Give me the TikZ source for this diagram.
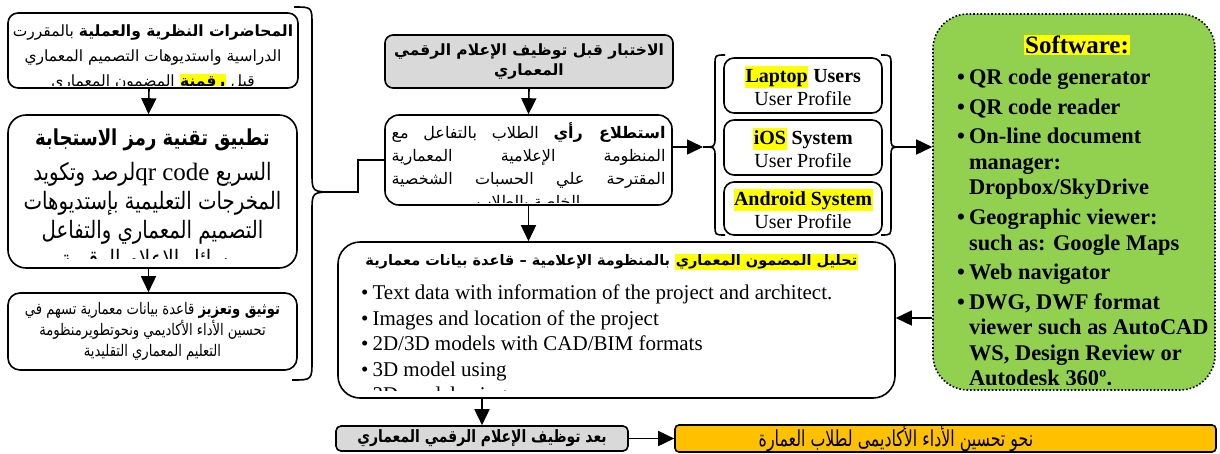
\documentclass[tikz,border=0pt]{standalone}
\usepackage{fontspec}
\setmainfont{Liberation Serif}
\newfontfamily\ar[Script=Arabic]{DejaVu Sans}
\newfontfamily\arn[Script=Arabic,FakeStretch=0.82]{DejaVu Sans}
\newfontfamily\arnn[Script=Arabic,FakeStretch=0.72]{DejaVu Sans}
\usetikzlibrary{arrows.meta}
\TeXXeTstate=1
\definecolor{boxgray}{HTML}{D9D9D9}
\definecolor{softgreen}{HTML}{92D050}
\definecolor{amber}{HTML}{FFC000}
\definecolor{marker}{HTML}{FFFF00}
% right-to-left run
\newcommand\RL[1]{\beginR#1\endR}
% yellow text marker (used only in left-to-right context)
\newcommand\hl[1]{{\setlength\fboxsep{0.5pt}\colorbox{marker}{\rule[-.28em]{0pt}{1.08em}#1}}}
\tikzset{
  box/.style={draw, line width=1.6pt, fill=white, inner sep=0pt, align=center},
  arr/.style={line width=1.6pt, -{Triangle[length=16pt,width=15pt]}},
  ln/.style={line width=1.6pt},
  txt/.style={inner sep=0pt, align=center},
}
\begin{document}
\begin{tikzpicture}[x=1pt,y=-1pt]
\useasboundingbox (0,0) rectangle (1220,453);

% ---------- left column ----------
\node[box, rounded corners=10pt, minimum width=290pt, minimum height=75pt] (b1) at (153,50.5) {};
\begin{scope}
  \clip[rounded corners=10pt] (b1.north west) rectangle ([yshift=3pt]b1.south east);
  \node[txt, anchor=north, font=\ar\fontsize{15.5}{25}\selectfont] (b1t) at (153,25)
    {\RL{\textbf{المحاضرات النظرية والعملية} بالمقررت}\\
     \RL{الدراسية واستديوهات التصميم المعماري}\\
     \RL{المضمون المعماري} \hl{\RL{\textbf{رقمنة}}} \RL{قبل}};
\end{scope}

\node[box, rounded corners=18pt, minimum width=289pt, minimum height=153pt] (b2) at (152.5,191.5) {};
\begin{scope}
  \clip[rounded corners=18pt] (b2.north west) rectangle ([yshift=10pt]b2.south east);
  \node[txt, anchor=north, font=\arn\fontsize{24}{29}\selectfont] (b2t) at (152.5,129)
    {\RL{\textbf{\fontsize{22}{27}\selectfont تطبيق تقنية رمز الاستجابة}}\\[6pt]
     \RL{السريع \beginL{\rmfamily\fontsize{25}{28}\selectfont qr code}\endL لرصد وتكويد}\\
     \RL{المخرجات التعليمية بإستديوهات}\\
     \RL{التصميم المعماري والتفاعل}\\
     \RL{بوسائل الإعلام الرقمية}};
\end{scope}

\node[box, rounded corners=12pt, minimum width=289pt, minimum height=77pt,
  font=\arn\fontsize{16}{21}\selectfont] (b3) at (152.5,331.5)
  {\RL{\textbf{توثيق وتعزيز} قاعدة بيانات معمارية تسهم في}\\
   \RL{تحسين الأداء الأكاديمي ونحوتطويرمنظومة}\\
   \RL{التعليم المعماري التقليدية}};

\draw[arr] ([xshift=-4pt]b1.south) -- ([xshift=-4pt]b2.north);
\draw[arr] ([xshift=-4pt]b2.south) -- ([xshift=-4pt]b3.north);

% brace gathering the left column
\draw[ln] (294,7) .. controls (312,7) .. (312,25) -- (312,172)
  .. controls (312,192) .. (334,192) .. controls (312,192) .. (312,212)
  -- (312,360) .. controls (312,380) .. (292,380);
\coordinate (lbr) at (334,192);

% ---------- middle column ----------
\node[box, fill=boxgray, rounded corners=8pt, minimum width=288pt, minimum height=53pt,
  font=\ar\bfseries\fontsize{15.5}{20}\selectfont] (gtop) at (529,61.5)
  {\RL{الاختبار قبل توظيف الإعلام الرقمي}\\ \RL{المعماري}};

\node[box, rounded corners=14pt, minimum width=287pt, minimum height=90pt] (stlaa) at (528.5,160) {};
\begin{scope}
  \clip[rounded corners=14pt] (stlaa.north west) rectangle ([yshift=3pt]stlaa.south east);
  \node[txt, anchor=north, font=\ar\fontsize{16}{23}\selectfont] (stlaat) at (528.5,122)
    {\makebox[274pt][s]{\RL{\textbf{استطلاع رأي} الطلاب بالتفاعل مع}}\\
     \makebox[274pt][s]{\RL{المنظومة الإعلامية المعمارية}}\\
     \makebox[274pt][s]{\RL{المقترحة علي الحسبات الشخصية}}\\
     \RL{الخاصة بالطلاب}};
\end{scope}

\draw[arr] (gtop.south) -- (stlaa.north);
\draw[ln] (lbr) -- (358,192) |- (stlaa.west);

% ---------- user profiles ----------
\node[box, rounded corners=10pt, minimum width=158pt, minimum height=55pt,
  font=\fontsize{20}{23}\selectfont] (dev1) at (803,85.5)
  {\hl{\textbf{Laptop}} \textbf{Users}\\ User Profile};
\node[box, rounded corners=10pt, minimum width=158pt, minimum height=55pt,
  font=\fontsize{20}{23}\selectfont] (dev2) at (803,147.5)
  {\hl{\textbf{iOS}} \textbf{System}\\ User Profile};
\node[box, rounded corners=10pt, minimum width=158pt, minimum height=53pt,
  font=\fontsize{20}{23}\selectfont] (dev3) at (803,208.5)
  {\hl{\textbf{Android System}}\\ User Profile};

\draw[ln] (725,55) .. controls (715,55) .. (715,65) -- (715,137)
  .. controls (715,147) .. (703,147) .. controls (715,147) .. (715,157)
  -- (715,225) .. controls (715,235) .. (725,235);
\coordinate (lbt) at (703,147);
\draw[ln] (881,55) .. controls (891,55) .. (891,65) -- (891,137)
  .. controls (891,147) .. (901,147) .. controls (891,147) .. (891,157)
  -- (891,225) .. controls (891,235) .. (881,235);
\coordinate (rbt) at (901,147);

\draw[arr] (stlaa.east |- lbt) -- (lbt);

% ---------- software ----------
\node[draw, dotted, line width=1.6pt, fill=softgreen, rounded corners=35pt,
  minimum width=282pt, minimum height=376pt, inner sep=0pt] (green) at (1074,202) {};
\begin{scope}
  \clip[rounded corners=35pt] (green.north west) rectangle ([yshift=6pt]green.south east);
  \node[txt, font=\bfseries\fontsize{25}{30}\selectfont] (swt) at (1077,45)
    {{\setlength\fboxsep{1.5pt}\colorbox{marker}{Software:}}};
  \node[inner sep=0pt, anchor=north west, font=\bfseries\fontsize{22.4}{25.5}\selectfont] (swl) at (957,66.5)
    {\begin{tabular}{@{}l@{\hspace{4pt}}l@{}}
      \textbullet & QR code generator\\[4pt]
      \textbullet & QR code reader\\[4pt]
      \textbullet & On-line document\\
                  & manager:\\
                  & Dropbox/SkyDrive\\[4.5pt]
      \textbullet & Geographic viewer:\\
                  & such as: Google Maps\\[4pt]
      \textbullet & Web navigator\\[4pt]
      \textbullet & DWG, DWF format\\
                  & viewer such as AutoCAD\\
                  & WS, Design Review or\\
                  & Autodesk 360º.
     \end{tabular}};
\end{scope}

\draw[arr] (rbt) -- (rbt -| green.west);

% ---------- analysis box ----------
\node[box, rounded corners=22pt, minimum width=557pt, minimum height=156pt] (big) at (616.5,320) {};
\begin{scope}
  \clip[rounded corners=22pt] (big.north west) rectangle ([yshift=8pt]big.south east);
  \node[txt, anchor=east, font=\ar\bfseries\fontsize{14.5}{20}\selectfont] (bigh) at (858,262)
    {\RL{بالمنظومة الإعلامية – قاعدة بيانات معمارية} \hl{\RL{تحليل المضمون المعماري}}};
  \node[inner sep=0pt, anchor=north west, font=\fontsize{21}{25.5}\selectfont] (bigl) at (361,281.5)
    {\begin{tabular}{@{}l@{\hspace{4pt}}l@{}}
      \textbullet & Text data with information of the project and architect.\\
      \textbullet & Images and location of the project\\
      \textbullet & 2D/3D models with CAD/BIM formats\\
      \textbullet & 3D model using\\
      \textbullet & 3D model using
     \end{tabular}};
\end{scope}

\draw[arr] (stlaa.south) -- (stlaa.south |- big.north);
\coordinate (gy) at (0,318);
\draw[arr] (green.west |- gy) -- (big.east |- gy);

% ---------- bottom row ----------
\node[box, fill=boxgray, rounded corners=5pt, minimum width=292pt, minimum height=25pt,
  font=\arn\bfseries\fontsize{17}{19}\selectfont] (bgray) at (482,438.5)
  {\RL{بعد توظيف الإعلام الرقمي المعماري}};
\node[box, fill=amber, rounded corners=4pt, minimum width=541pt, minimum height=27pt] (goal) at (945.5,438.5) {};
\node[txt, font=\arnn\fontsize{22}{24}\selectfont] (goalt) at (896,438.5)
  {\RL{نحو تحسين الأداء الأكاديمى لطلاب العمارة}};

\draw[arr] (big.south -| bgray) -- (bgray.north);
\draw[arr] (bgray.east) -- (goal.west);
\end{tikzpicture}
\end{document}
